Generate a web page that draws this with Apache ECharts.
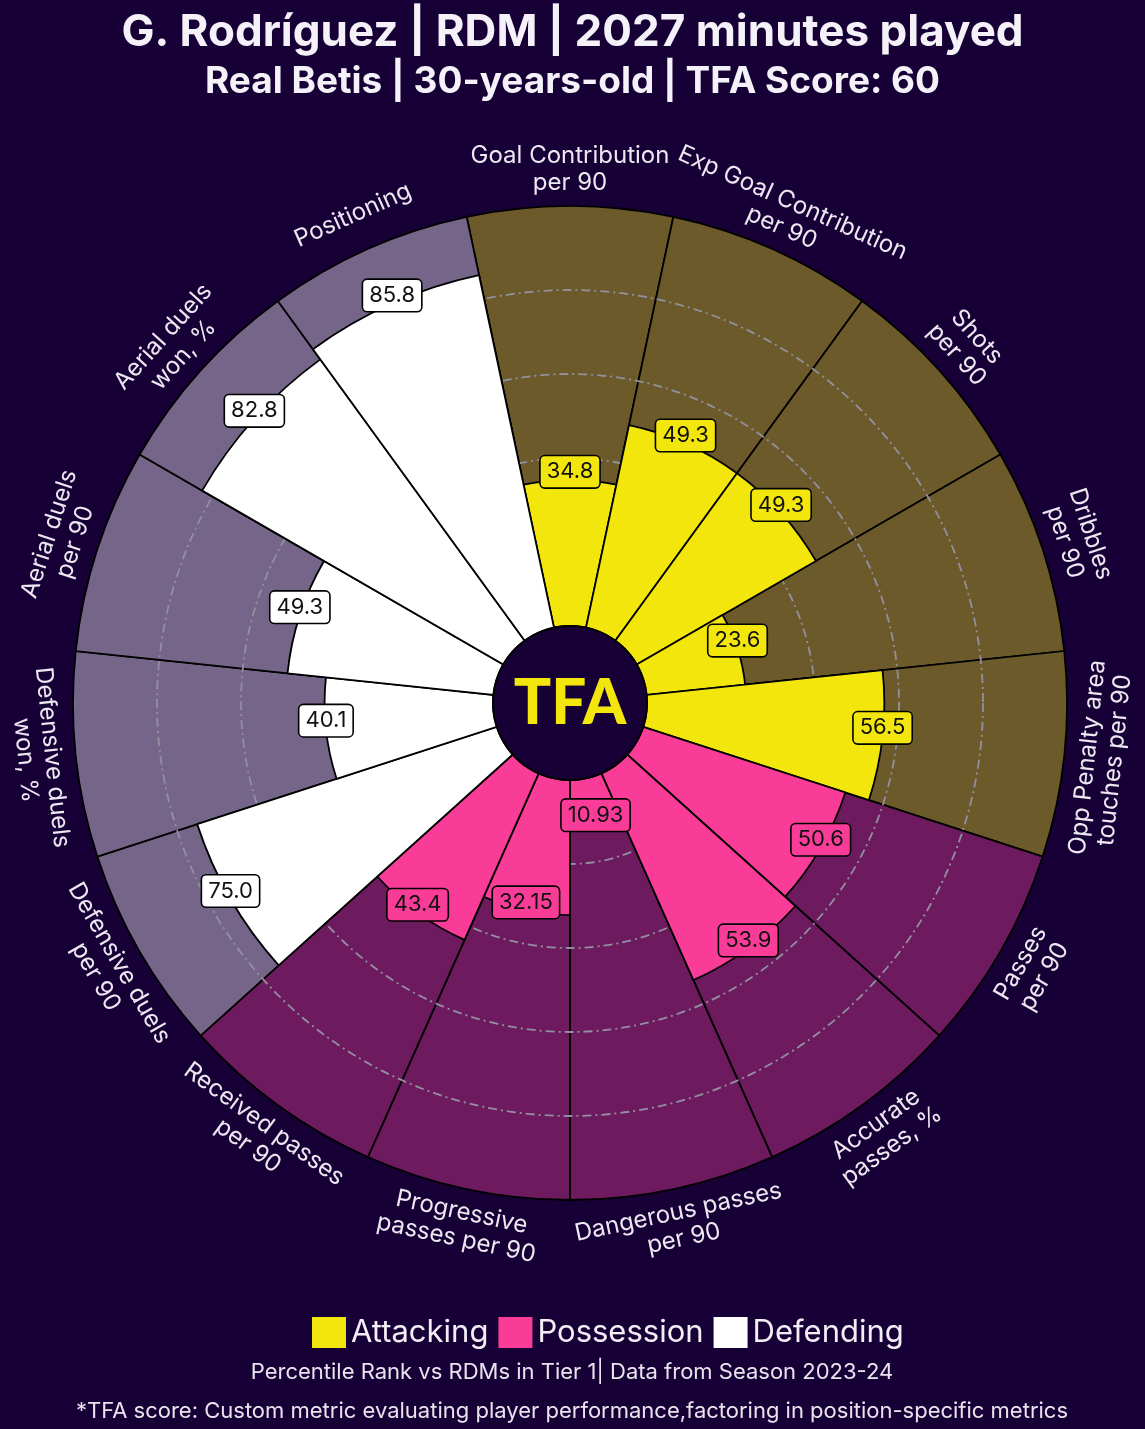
<!DOCTYPE html>
<html><head><meta charset="utf-8">
<script src="https://cdn.jsdelivr.net/npm/echarts@6/dist/echarts.min.js"></script>
<style>html,body{margin:0;padding:0;background:#170036;}#c{width:1145px;height:1429px;}</style>
</head><body><div id="c"></div>
<script>
const categories = [
  'Goal Contribution\nper 90', 'Exp Goal Contribution\nper 90', 'Shots\nper 90', 'Dribbles\nper 90',
  'Opp Penalty area\ntouches per 90', 'Passes\nper 90', 'Accurate\npasses, %', 'Dangerous passes\nper 90',
  'Progressive\npasses per 90', 'Received passes\nper 90', 'Defensive duels\nper 90', 'Defensive duels\nwon, %',
  'Aerial duels\nper 90', 'Aerial duels\nwon, %', 'Positioning'
];
const groups = ['Attacking','Attacking','Attacking','Attacking','Attacking',
  'Possession','Possession','Possession','Possession','Possession',
  'Defending','Defending','Defending','Defending','Defending'];
const values = [34.8, 49.3, 49.3, 23.6, 56.5, 50.6, 53.9, 10.93, 32.15, 43.4, 75.0, 40.1, 49.3, 82.8, 85.8];
const groupNames = ['Attacking', 'Possession', 'Defending'];
const barColors = { Attacking: '#f2e60c', Possession: '#f83c97', Defending: '#ffffff' };
const bgColors = { Attacking: '#6c5a2a', Possession: '#6e1a5e', Defending: '#756589' };
const ringTicks = [0, 20, 40, 60, 80, 100];

const FONT = 'Inter, Lato, sans-serif';
const BG = '#170036';
const LABEL_R = 108.8;

function fmt(v) { const s = String(v); return s.indexOf('.') < 0 ? s + '.0' : s; }

const chart = echarts.init(document.getElementById('c'), null, { renderer: 'canvas' });

const series = [];
series.push({
  name: 'bg', type: 'bar', coordinateSystem: 'polar', z: 1, silent: true,
  barCategoryGap: '0%', barGap: '-100%',
  itemStyle: { borderColor: '#000', borderWidth: 1.8 },
  data: categories.map((c, i) => ({ value: 100, itemStyle: { color: bgColors[groups[i]] } }))
});
groupNames.forEach(g => {
  series.push({
    name: g, type: 'bar', coordinateSystem: 'polar', z: 5,
    barCategoryGap: '0%', barGap: '-100%',
    itemStyle: { color: barColors[g], borderColor: '#000', borderWidth: 1.8 },
    data: values.map((v, i) => groups[i] === g ? v : '-')
  });
});
series.push({
  type: 'scatter', coordinateSystem: 'polar', z: 10, clip: false, symbolSize: 1,
  itemStyle: { color: 'rgba(0,0,0,0)', opacity: 1 },
  data: values.map((v, i) => ({
    value: [v, i],
    label: { backgroundColor: barColors[groups[i]] }
  })),
  label: {
    show: true, position: 'inside', offset: [0, -8],
    formatter: p => fmt(p.value[0]),
    fontFamily: FONT, fontSize: 22, color: '#111', lineHeight: 24,
    borderColor: '#000', borderWidth: 1.6, borderRadius: 4, padding: [4, 6, 3, 6]
  }
});
series.push({
  type: 'custom', coordinateSystem: 'polar', z: 10, silent: true,
  data: categories.map((c, i) => [LABEL_R, i]),
  renderItem: function (params, api) {
    const idx = api.value(1);
    const p = api.coord([api.value(0), idx]);
    const cs = params.coordSys;
    const th = Math.atan2(cs.cy - p[1], p[0] - cs.cx);
    const rot = th >= 0 ? th - Math.PI / 2 : th + Math.PI / 2;
    return {
      type: 'text', x: p[0], y: p[1], rotation: rot,
      style: {
        text: categories[idx], fill: '#ece8f2', font: '24px ' + FONT,
        align: 'center', verticalAlign: 'middle', lineHeight: 27
      }
    };
  }
});

chart.setOption({
  backgroundColor: BG,
  animation: false,
  title: [
    { text: 'G. Rodríguez | RDM | 2027 minutes played', left: 'center', top: 6,
      textStyle: { color: '#f4f2f8', fontSize: 44, fontWeight: 700, fontFamily: FONT } },
    { text: 'Real Betis | 30-years-old | TFA Score: 60', left: 'center', top: 58,
      textStyle: { color: '#f4f2f8', fontSize: 37, fontWeight: 700, fontFamily: FONT } }
  ],
  legend: {
    data: groupNames, left: 307, top: 1312, icon: 'rect',
    itemWidth: 34, itemHeight: 31, itemGap: 10,
    itemStyle: { borderWidth: 0 },
    textStyle: { color: '#f1eef6', fontSize: 31, fontFamily: FONT }
  },
  polar: { center: [570, 703], radius: [77, 497] },
  angleAxis: {
    type: 'category', data: categories, startAngle: 102, clockwise: true,
    axisLine: { show: false }, axisTick: { show: false }, axisLabel: { show: false }, splitLine: { show: false }
  },
  radiusAxis: {
    min: 0, max: 100, interval: 20, z: 3,
    axisLine: { show: false }, axisTick: { show: false }, axisLabel: { show: false },
    splitLine: { show: true, lineStyle: {
      color: ringTicks.map(t => (t === 0 || t === 100) ? 'rgba(0,0,0,0)' : '#9290a0'),
      width: 1.8, type: [9, 4, 2, 4] } }
  },
  graphic: [
    { type: 'circle', shape: { cx: 570, cy: 703, r: 77 }, z: 50,
      style: { fill: BG, stroke: '#000', lineWidth: 2 } },
    { type: 'text', x: 570, y: 704, z: 51,
      style: { text: 'TFA', fill: '#f2e60c', font: '900 62px Lato, sans-serif', align: 'center', verticalAlign: 'middle' } },
    { type: 'text', x: 572, y: 1372, z: 51,
      style: { text: 'Percentile Rank vs RDMs in Tier 1| Data from Season 2023-24', fill: '#e8e4ee',
        font: '22px ' + FONT, align: 'center', verticalAlign: 'middle' } },
    { type: 'text', x: 572, y: 1411, z: 51,
      style: { text: '*TFA score: Custom metric evaluating player performance,factoring in position-specific metrics', fill: '#e8e4ee',
        font: '22px ' + FONT, align: 'center', verticalAlign: 'middle' } }
  ],
  series: series
});
</script></body></html>
